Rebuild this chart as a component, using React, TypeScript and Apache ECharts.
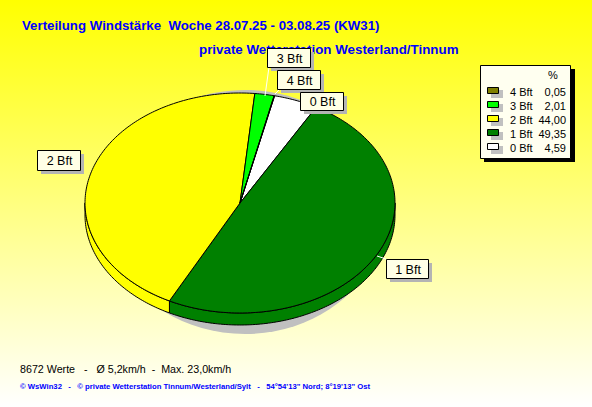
import React, { useEffect, useRef } from "react";
import * as echarts from "echarts";

const sliceNames = ["0 Bft", "1 Bft", "2 Bft", "3 Bft", "4 Bft"];
const sliceValues = [4.59, 49.35, 44.0, 2.01, 0.05];
const sliceColors = ["#ffffff", "#008000", "#ffff00", "#00ff00", "#808000"];
const legendOrder = [4, 3, 2, 1, 0];
const percentLabels = ["4,59", "49,35", "44,00", "2,01", "0,05"];

const titleLine1 = "Verteilung Windstärke  Woche 28.07.25 - 03.08.25 (KW31)";
const titleLine2 = "private Wetterstation Westerland/Tinnum";
const statsLine = "8672 Werte   -   Ø 5,2km/h  -  Max. 23,0km/h";
const footerLine = "© WsWin32   -   © private Wetterstation Tinnum/Westerland/Sylt   -   54°54'13\" Nord; 8°19'13\" Ost";

const FONT = "'Liberation Sans', Arial, sans-serif";
const CX = 240, CY = 203, RX = 155, RY = 110, DEPTH = 12, START = 12.9;

// callout boxes: [left, top, right, bottom], leader [x1,y1,x2,y2]
const callouts: Record<string, { box: number[]; leader?: number[] }> = {
  "3 Bft": { box: [267, 48, 310, 67], leader: [265, 96, 269, 67] },
  "4 Bft": { box: [277, 70, 320, 89], leader: [275, 94, 280, 89] },
  "0 Bft": { box: [300, 92, 343, 110] },
  "1 Bft": { box: [386, 259, 428, 278], leader: [377, 256, 386, 259] },
  "2 Bft": { box: [37, 150, 80, 170] },
};

const pt = (deg: number, dy = 0): number[] => {
  const r = (deg * Math.PI) / 180;
  return [CX + RX * Math.sin(r), CY - RY * Math.cos(r) + dy];
};
const arc = (a: number, b: number, dy = 0): number[][] => {
  const out: number[][] = [];
  const n = Math.max(1, Math.ceil(Math.abs(b - a)));
  for (let i = 0; i <= n; i++) out.push(pt(a + ((b - a) * i) / n, dy));
  return out;
};

const total = sliceValues.reduce((s, v) => s + v, 0);
const sliceStart = (i: number) =>
  START + (sliceValues.slice(0, i).reduce((s, v) => s + v, 0) / total) * 360;

function renderSlice(params: any, api: any) {
  const i = params.dataIndex;
  const share = api.value(0) / total;
  const a = sliceStart(i);
  const b = a + share * 360;
  const color = sliceColors[i];
  const style = { fill: color, stroke: "#000", lineWidth: 1 };
  const children: any[] = [];
  const lo = Math.max(a, 90);
  const hi = Math.min(b, 270);
  if (hi > lo) {
    children.push({
      type: "polygon",
      shape: { points: [...arc(lo, hi), ...arc(hi, lo, DEPTH)] },
      style,
      z2: 1,
    });
  }
  children.push({
    type: "polygon",
    shape: { points: [[CX, CY], ...arc(a, b)] },
    style,
    z2: 2,
  });
  return { type: "group", children };
}

function calloutElements(name: string) {
  const c = callouts[name];
  const [l, t, r, b] = c.box;
  const els: any[] = [];
  if (c.leader) {
    const [x1, y1, x2, y2] = c.leader;
    els.push({ type: "line", z: 9, shape: { x1, y1, x2, y2 }, style: { stroke: "#ffffff", lineWidth: 1 } });
  }
  els.push(
    { type: "rect", z: 10, shape: { x: l + 4, y: t + 4, width: r - l, height: b - t }, style: { fill: "#b4b4b4" } },
    { type: "rect", z: 11, shape: { x: l + 0.5, y: t + 0.5, width: r - l, height: b - t }, style: { fill: "#ffffe6", stroke: "#000", lineWidth: 1 } },
    {
      type: "text", z: 12, x: (l + r) / 2 + 1, y: (t + b) / 2 + 1,
      style: { text: name, fill: "#000", font: `12.5px ${FONT}`, align: "center", verticalAlign: "middle" },
    }
  );
  return els;
}

function legendElements() {
  const els: any[] = [
    { type: "rect", z: 10, shape: { x: 484, y: 69, width: 91, height: 93 }, style: { fill: "#000" } },
    { type: "rect", z: 11, shape: { x: 480.5, y: 65.5, width: 90, height: 93 }, style: { fill: "#fffff0", stroke: "#000", lineWidth: 1 } },
    { type: "text", z: 12, x: 553, y: 75, style: { text: "%", fill: "#000", font: `11px ${FONT}`, align: "center", verticalAlign: "middle" } },
  ];
  legendOrder.forEach((idx, row) => {
    const y = 91 + row * 14;
    els.push(
      { type: "rect", z: 12, shape: { x: 491, y: y - 1, width: 12, height: 8 }, style: { fill: "#c0c0c0" } },
      { type: "rect", z: 13, shape: { x: 487.5, y: y - 3.5, width: 11, height: 6 }, style: { fill: sliceColors[idx], stroke: "#000", lineWidth: 1 } },
      { type: "text", z: 13, x: 510, y: y + 0.5, style: { text: sliceNames[idx], fill: "#000", font: `11px ${FONT}`, align: "left", verticalAlign: "middle" } },
      { type: "text", z: 13, x: 566, y: y + 0.5, style: { text: percentLabels[idx], fill: "#000", font: `11px ${FONT}`, align: "right", verticalAlign: "middle" } }
    );
  });
  return els;
}

export default function App() {
  const ref = useRef<HTMLDivElement>(null);
  useEffect(() => {
    const chart = echarts.init(ref.current!, undefined, { renderer: "svg" });
    chart.setOption({
      animation: false,
      backgroundColor: new echarts.graphic.LinearGradient(0, 0, 0, 1, [
        { offset: 0, color: "#ffff00" },
        { offset: 1, color: "#ffffff" },
      ]),
      series: [
        {
          type: "custom",
          coordinateSystem: "none",
          z: 5,
          renderItem: renderSlice,
          data: sliceValues.map((v, i) => ({ name: sliceNames[i], value: [v] })),
        },
      ],
      graphic: {
        elements: [
          { type: "text", z: 1, x: 22, y: 25, style: { text: titleLine1, fill: "#0000ff", font: `bold 13.25px ${FONT}`, align: "left", verticalAlign: "middle" } },
          { type: "text", z: 1, x: 199, y: 49, style: { text: titleLine2, fill: "#0000ff", font: `bold 13.35px ${FONT}`, align: "left", verticalAlign: "middle" } },
          { type: "ellipse", z: 2, shape: { cx: 245, cy: 212, rx: 140, ry: 122 }, style: { fill: "#c0c0c0" } },
          { type: "text", z: 1, x: 20, y: 369, style: { text: statsLine, fill: "#000", font: `10.7px ${FONT}`, align: "left", verticalAlign: "middle" } },
          { type: "text", z: 1, x: 20, y: 386, style: { text: footerLine, fill: "#0000ff", font: `bold 7.7px ${FONT}`, align: "left", verticalAlign: "middle" } },
          ...sliceNames.flatMap(calloutElements),
          ...legendElements(),
        ],
      },
    });
    return () => chart.dispose();
  }, []);
  return <div ref={ref} style={{ position: "absolute", left: 0, top: 0, width: 592, height: 407 }} />;
}
